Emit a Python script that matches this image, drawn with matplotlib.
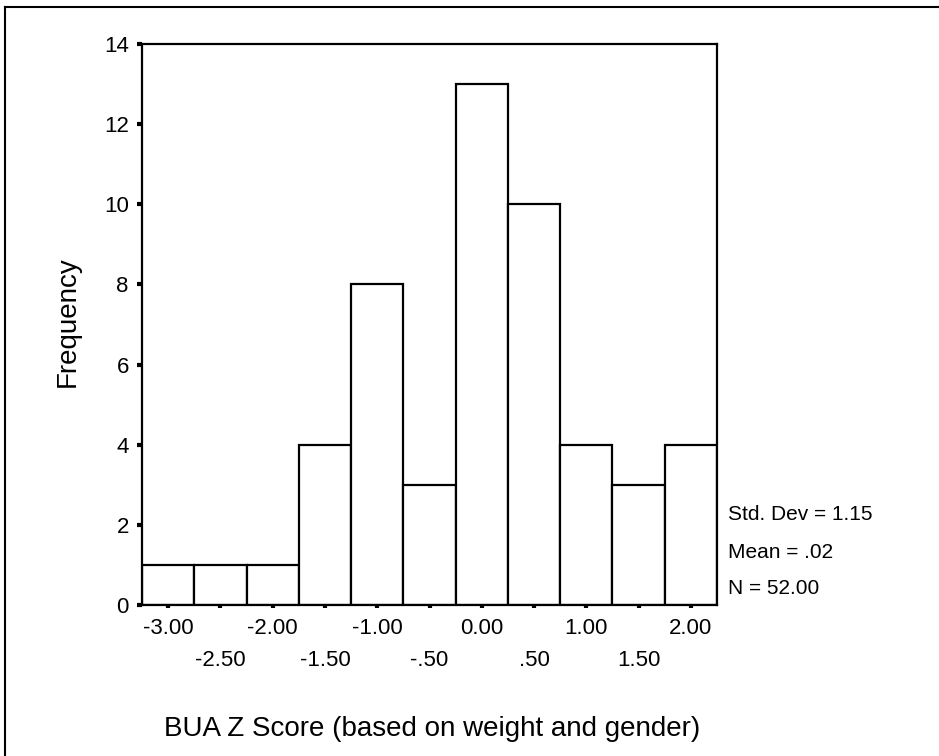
import matplotlib
matplotlib.use("Agg")
import matplotlib.pyplot as plt
from matplotlib.lines import Line2D

# Histogram data (bin centres, counts)
bin_centers = [-3.0, -2.5, -2.0, -1.5, -1.0, -0.5, 0.0, 0.5, 1.0, 1.5, 2.0]
counts = [1, 1, 1, 4, 8, 3, 13, 10, 4, 3, 4]
tick_labels = ["-3.00", "-2.50", "-2.00", "-1.50", "-1.00", "-.50",
               "0.00", ".50", "1.00", "1.50", "2.00"]
y_ticks = [0, 2, 4, 6, 8, 10, 12, 14]
stats_lines = ["Std. Dev = 1.15", "Mean = .02", "N = 52.00"]
x_title = "BUA Z Score (based on weight and gender)"
y_title = "Frequency"
bin_width = 0.5

plt.rcParams['font.family'] = ['Liberation Sans', 'DejaVu Sans']

W, H = 939, 756
fig = plt.figure(figsize=(W / 100, H / 100), dpi=100)
fig.patch.set_facecolor('white')

# axes box in pixel coordinates of the reference
left, right, top, bottom = 142, 717, 44, 605
ax = fig.add_axes([left / W, 1 - bottom / H, (right - left) / W, (bottom - top) / H])

ax.bar(bin_centers, counts, width=bin_width, color='white',
       edgecolor='black', linewidth=1.6)

ax.set_xlim(bin_centers[0] - bin_width / 2, bin_centers[-1] + bin_width / 2)
ax.set_ylim(0, 14)

for s in ax.spines.values():
    s.set_linewidth(1.6)
    s.set_color('black')

# staggered x labels: even ones as major ticks, odd ones as minor ticks further down
ax.set_xticks(bin_centers[::2])
ax.set_xticklabels(tick_labels[::2])
ax.set_xticks(bin_centers[1::2], minor=True)
ax.set_xticklabels(tick_labels[1::2], minor=True)
ax.tick_params(axis='x', which='major', direction='out', length=2.2, width=3,
               pad=7.5, labelsize=16)
ax.tick_params(axis='x', which='minor', direction='out', length=2.2, width=3,
               pad=30.5, labelsize=16)

ax.set_yticks(y_ticks)
ax.set_yticklabels([str(v) for v in y_ticks])
ax.tick_params(axis='y', direction='out', length=3.5, width=3, pad=6,
               labelsize=16)

fig.text(432 / W, 1 - 729 / H, x_title, fontsize=20, ha='center', va='center')
fig.text(68 / W, 1 - 322 / H, y_title, fontsize=20, ha='center', va='center',
         rotation=90)

for i, line in enumerate(stats_lines):
    fig.text(728 / W, 1 - (515 + 37 * i) / H, line, fontsize=15,
             ha='left', va='center')

# scanned page border (top and left edges only)
fig.add_artist(Line2D([5 / W, 1], [1 - 7 / H, 1 - 7 / H],
                      transform=fig.transFigure, color='black', linewidth=1.5))
fig.add_artist(Line2D([5 / W, 5 / W], [0, 1 - 7 / H],
                      transform=fig.transFigure, color='black', linewidth=1.5))

fig.savefig("out.png", dpi=100, facecolor='white')
